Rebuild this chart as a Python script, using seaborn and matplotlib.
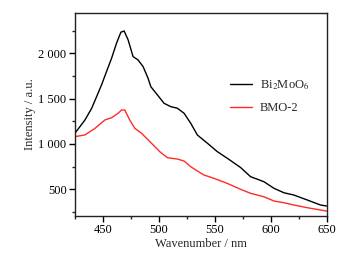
import seaborn as sns
import pandas as pd
import matplotlib.pyplot as plt
from matplotlib.ticker import AutoMinorLocator, FuncFormatter

# spectra
wl_bmo = [425, 434, 440, 444.4, 448.8, 453, 457.8, 462.2, 466.1, 469, 472.6,
          477, 481.5, 486, 490.4, 492.9, 498.8, 504.7, 510.7, 516.7, 522.6,
          528.6, 534.5, 543.5, 552.4, 561.3, 573.2, 582, 594, 603, 611.9,
          620.8, 632.8, 644.6, 650]
int_bmo = [1118, 1265, 1394, 1522, 1651, 1790, 1946, 2111, 2233, 2247, 2148,
           1964, 1927, 1853, 1725, 1632, 1541, 1449, 1412, 1394, 1339,
           1228, 1099, 1008, 915, 842, 740, 640, 584, 511, 462,
           437, 382, 327, 316]

wl_bmo2 = [425, 434, 443, 451.8, 457.8, 463.7, 466.7, 469.6, 474, 478.6,
           484.6, 493.5, 500.9, 507.7, 516.7, 522.6, 528.6, 534.5, 540.4,
           549.4, 561.3, 573.2, 582, 594, 603, 611.9, 620.8, 632.8, 644.6, 650]
int_bmo2 = [1081, 1100, 1173, 1265, 1290, 1339, 1375, 1375, 1265, 1173,
            1118, 1008, 915, 849, 834, 812, 749, 702, 658,
            621, 565, 500, 456, 418, 371, 352, 327, 297, 272, 260]

labels = ["Bi$_2$MoO$_6$", "BMO-2"]

df = pd.concat([
    pd.DataFrame({"wl": wl_bmo, "I": int_bmo, "sample": labels[0]}),
    pd.DataFrame({"wl": wl_bmo2, "I": int_bmo2, "sample": labels[1]}),
])

sns.set_style("ticks")
plt.rcParams["font.family"] = ["Liberation Serif", "DejaVu Serif"]
plt.rcParams["mathtext.fontset"] = "stix"

fig = plt.figure(figsize=(3.5, 2.56), dpi=100)
ax = fig.add_axes([0.214, 0.156, 0.719, 0.795])
sns.lineplot(data=df, x="wl", y="I", hue="sample", sort=False,
             palette=["black", "#ff2a2a"], linewidth=1.0, ax=ax)

ax.set_xlim(425, 650)
ax.set_ylim(205, 2450)
ax.set_xticks([450, 500, 550, 600, 650])
ax.set_yticks([500, 1000, 1500, 2000])
ax.xaxis.set_minor_locator(AutoMinorLocator(2))
ax.yaxis.set_minor_locator(AutoMinorLocator(2))
ax.yaxis.set_major_formatter(FuncFormatter(lambda v, p: f"{v:,.0f}".replace(",", " ")))
ax.tick_params(which="major", length=4, width=1, labelsize=9, colors="black", pad=2)
ax.tick_params(which="minor", length=2, width=1)
for s in ax.spines.values():
    s.set_linewidth(1.0)
    s.set_color("#222222")

ax.set_xlabel("Wavenumber / nm", fontsize=9, labelpad=1)
ax.set_ylabel("Intensity / a.u.", fontsize=9, labelpad=2)

ax.legend(title=None, frameon=False, fontsize=9, loc="center left",
          bbox_to_anchor=(0.57, 0.59), handlelength=1.8, handletextpad=0.6,
          labelspacing=0.8)

fig.savefig("out.png", dpi=100)
